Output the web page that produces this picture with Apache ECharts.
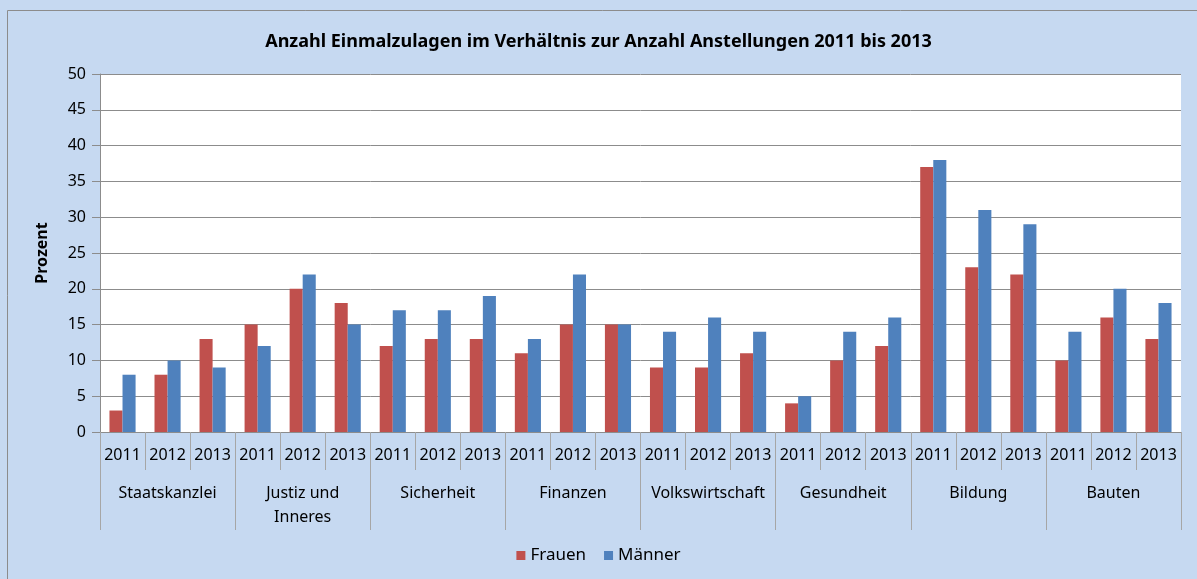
<!DOCTYPE html>
<html>
<head>
<meta charset="utf-8">
<script src="https://cdn.jsdelivr.net/npm/echarts@6/dist/echarts.min.js"></script>
<style>
  html, body { margin: 0; padding: 0; background: #c6d9f1; }
  #chart { width: 1197px; height: 579px; }
</style>
</head>
<body>
<div id="chart"></div>
<script>
// --- data ---------------------------------------------------------------
var departments = ['Staatskanzlei', 'Justiz und\nInneres', 'Sicherheit', 'Finanzen',
	'Volkswirtschaft', 'Gesundheit', 'Bildung', 'Bauten'];
var years = ['2011', '2012', '2013'];

// one value per department and year, in the order above
var frauen  = [3, 8, 13,  15, 20, 18,  12, 13, 13,  11, 15, 15,  9, 9, 11,  4, 10, 12,  37, 23, 22,  10, 16, 13];
var maenner = [8, 10, 9,  12, 22, 15,  17, 17, 19,  13, 22, 15,  14, 16, 14,  5, 14, 16,  38, 31, 29,  14, 20, 18];

var yTicks = { min: 0, max: 50, interval: 5 };

// inner category keys: department|year
var yearCats = [];
departments.forEach(function (d) {
	years.forEach(function (y) {
		yearCats.push(d + '|' + y);
	});
});

var font = 'Noto Sans';
var lineGrey = '#8c8c8c';

var chart = echarts.init(document.getElementById('chart'));

var option = {
	backgroundColor: '#c6d9f1',
	textStyle: { fontFamily: font },
	graphic: [{
		type: 'rect',
		shape: { x: 7.5, y: 10.5, width: 1220, height: 600 },
		style: { fill: null, stroke: '#8c8c8c', lineWidth: 1 },
		silent: true
	}],
	title: {
		text: 'Anzahl Einmalzulagen im Verhältnis zur Anzahl Anstellungen 2011 bis 2013',
		left: 'center',
		top: 28,
		textStyle: { fontFamily: font, fontSize: 18, fontWeight: 'bold', color: '#000' }
	},
	legend: {
		bottom: 10,
		left: 'center',
		itemWidth: 9,
		itemHeight: 9,
		itemGap: 18,
		icon: 'rect',
		textStyle: { fontFamily: font, fontSize: 17, color: '#000' },
		data: ['Frauen', 'Männer']
	},
	grid: {
		left: 100,
		right: 16,
		top: 74,
		bottom: 147,
		show: true,
		backgroundColor: '#ffffff',
		borderWidth: 0
	},
	xAxis: [
		{
			type: 'category',
			data: yearCats,
			position: 'bottom',
			axisLine: { show: true, lineStyle: { color: lineGrey } },
			axisTick: { show: true, interval: 0, length: 38, lineStyle: { color: '#a6a6a6' } },
			axisLabel: {
				interval: 0,
				margin: 15,
				fontSize: 16,
				fontFamily: font,
				color: '#000',
				formatter: function (v) { return v.split('|')[1]; }
			}
		},
		{
			type: 'category',
			data: departments,
			position: 'bottom',
			axisLine: { show: false },
			axisTick: { show: true, interval: 0, length: 98, lineStyle: { color: '#a6a6a6' } },
			axisLabel: {
				interval: 0,
				margin: 49,
				fontSize: 16,
				lineHeight: 24,
				fontFamily: font,
				color: '#000',
				verticalAlign: 'top'
			}
		}
	],
	yAxis: {
		type: 'value',
		min: yTicks.min,
		max: yTicks.max,
		interval: yTicks.interval,
		name: 'Prozent',
		nameLocation: 'middle',
		nameGap: 50,
		nameTextStyle: { fontFamily: font, fontSize: 16, fontWeight: 'bold', color: '#000' },
		axisLine: { show: true, lineStyle: { color: lineGrey } },
		axisTick: { show: true, length: 8, lineStyle: { color: lineGrey } },
		axisLabel: { margin: 14, fontSize: 16, fontFamily: font, color: '#000' },
		splitLine: { show: true, lineStyle: { color: lineGrey, width: 1 } }
	},
	series: [
		{
			name: 'Frauen',
			type: 'bar',
			xAxisIndex: 0,
			data: frauen,
			color: '#c0504d',
			barGap: '0%',
			barCategoryGap: '42%'
		},
		{
			name: 'Männer',
			type: 'bar',
			xAxisIndex: 0,
			data: maenner,
			color: '#4f81bd',
			barGap: '0%',
			barCategoryGap: '42%'
		}
	]
};

chart.setOption(option);
</script>
</body>
</html>
